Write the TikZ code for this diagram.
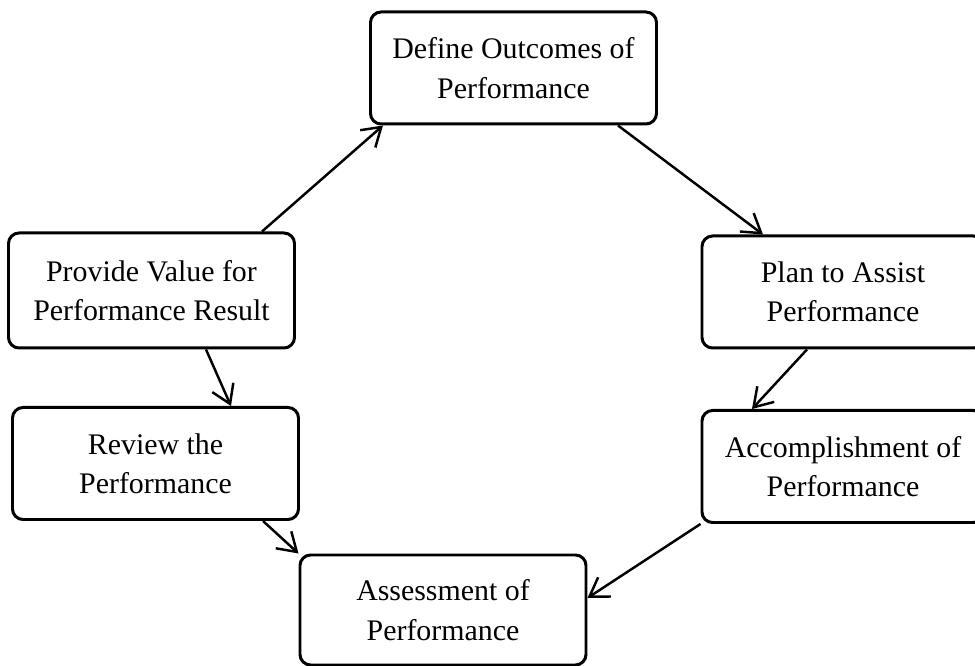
\documentclass[tikz,border=0pt]{standalone}
\usepackage{fontspec}
\setmainfont{Liberation Serif}
\usetikzlibrary{arrows.meta}

\begin{document}
\begin{tikzpicture}[
    font=\fontsize{17}{22.4}\selectfont,
    stage/.style={draw,line width=1.7pt,rounded corners=6pt,align=center,inner sep=2pt,
                  minimum width=5.72cm,minimum height=2.24cm},
    arrow/.style={-{Straight Barb[length=3.6mm,width=4.6mm]},line width=1.4pt}
]
\path[use as bounding box] (0,0) rectangle (19.5,-13.32);

\node[stage] (def)  at (10.27,-1.36)  {Define Outcomes of\\Performance};
\node[stage,minimum width=5.64cm] (plan) at (16.86,-5.84)  {Plan to Assist\\Performance};
\node[stage,minimum width=5.64cm] (acc)  at (16.86,-9.33)  {Accomplishment of\\Performance};
\node[stage,minimum height=2.2cm] (ass)  at (8.86,-12.2)   {Assessment of\\Performance};
\node[stage] (rev)  at (3.11,-9.27)   {Review the\\Performance};
\node[stage,minimum height=2.3cm] (prov) at (3.03,-5.81)   {Provide Value for\\Performance Result};

% clockwise cycle of the stages
\draw[arrow] ([xshift=2.21cm]prov.north) -- ([xshift=-2.61cm]def.south);
\draw[arrow] ([xshift=2.09cm]def.south) -- ([xshift=-1.6cm]plan.north);
\draw[arrow] ([xshift=-0.72cm]plan.south) -- ([xshift=-1.82cm]acc.north);
\draw[arrow] (acc.south west) -- ([yshift=0.24cm]ass.east);
\draw[arrow] ([xshift=1.09cm]prov.south) -- ([xshift=1.51cm]rev.north);
\draw[arrow] ([xshift=2.15cm]rev.south) -- (ass.north west);
\end{tikzpicture}
\end{document}
